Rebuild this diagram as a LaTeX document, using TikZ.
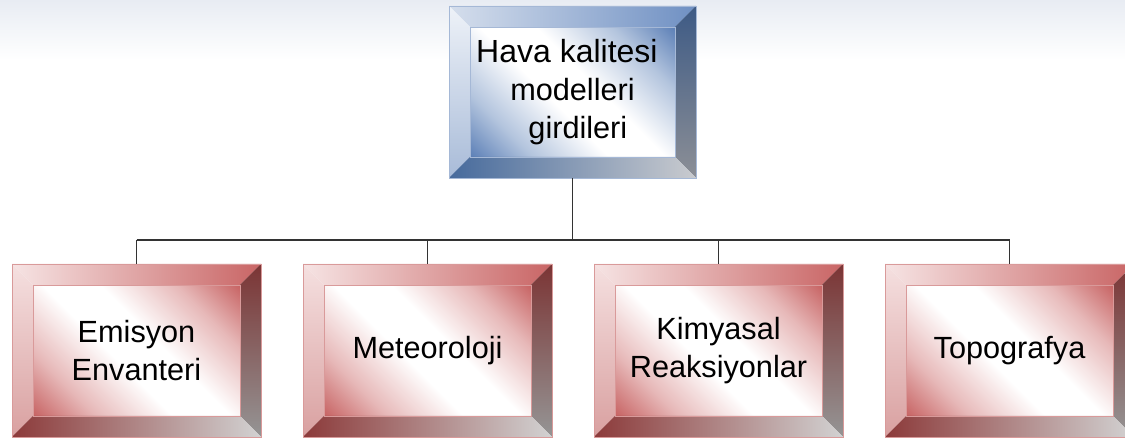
\documentclass[tikz,border=0pt]{standalone}
\usepackage{fontspec}
\setmainfont{Liberation Sans}
\usetikzlibrary{calc}
\definecolor{rA}{HTML}{C86666}
\definecolor{rM}{HTML}{E7B9B9}
\definecolor{bA}{HTML}{5F82B8}
\definecolor{bM}{HTML}{B4C5DE}
\definecolor{rtL}{HTML}{F6E4E4}\definecolor{rtR}{HTML}{C96565}
\definecolor{rlT}{HTML}{F5E0E0}\definecolor{rlB}{HTML}{D9A0A0}
\definecolor{rrT}{HTML}{7B3434}\definecolor{rrB}{HTML}{959595}
\definecolor{rbL}{HTML}{8C3A3A}\definecolor{rbR}{HTML}{D2D2D2}
\definecolor{rE}{HTML}{D99A9A}
\definecolor{btL}{HTML}{D5DEEC}\definecolor{btR}{HTML}{6F90C3}
\definecolor{blT}{HTML}{EEF2F8}\definecolor{blB}{HTML}{A8BBD8}
\definecolor{brT}{HTML}{3D5A85}\definecolor{brB}{HTML}{8C8F96}
\definecolor{bbL}{HTML}{466A9C}\definecolor{bbR}{HTML}{C9CBCF}
\definecolor{bE}{HTML}{A5B8D6}
\definecolor{bgT}{HTML}{E8ECF3}
\definecolor{connC}{HTML}{333333}
\pgfdeclarehorizontalshading{redfaceshade}{100bp}{color(0bp)=(rA); color(15bp)=(rA); color(28bp)=(rM); color(44bp)=(white); color(56bp)=(white); color(72bp)=(rM); color(85bp)=(rA); color(100bp)=(rA)}
\pgfdeclarehorizontalshading{bluefaceshade}{100bp}{color(0bp)=(bA); color(15bp)=(bA); color(28bp)=(bM); color(44bp)=(white); color(56bp)=(white); color(72bp)=(bM); color(85bp)=(bA); color(100bp)=(bA)}
\tikzset{
  redface/.style={shading=redfaceshade, shading angle=45},
  redtop/.style={left color=rtL, right color=rtR},
  redleft/.style={top color=rlT, bottom color=rlB},
  redright/.style={top color=rrT, bottom color=rrB},
  redbottom/.style={left color=rbL, right color=rbR},
  rededge/.style={draw=rE, line width=0.5pt},
  blueface/.style={shading=bluefaceshade, shading angle=45},
  bluetop/.style={left color=btL, right color=btR},
  blueleft/.style={top color=blT, bottom color=blB},
  blueright/.style={top color=brT, bottom color=brB},
  bluebottom/.style={left color=bbL, right color=bbR},
  blueedge/.style={draw=bE, line width=0.5pt},
  boxtext/.style={align=center, inner sep=0pt, font=\fontsize{23}{28.5}\selectfont, text=black},
  conn/.style={draw=connC, line width=0.8pt}
}
\newcommand\bevbox[7]{%
  \def\bvw{21}%
  \shade[#6face] ({#2+\bvw},{#3+\bvw}) rectangle ({#4-\bvw},{#5-\bvw});
  \shade[#6top] (#2,#5) -- (#4,#5) -- ({#4-\bvw},{#5-\bvw}) -- ({#2+\bvw},{#5-\bvw}) -- cycle;
  \shade[#6left] (#2,#5) -- ({#2+\bvw},{#5-\bvw}) -- ({#2+\bvw},{#3+\bvw}) -- (#2,#3) -- cycle;
  \shade[#6right] (#4,#5) -- (#4,#3) -- ({#4-\bvw},{#3+\bvw}) -- ({#4-\bvw},{#5-\bvw}) -- cycle;
  \shade[#6bottom] (#2,#3) -- ({#2+\bvw},{#3+\bvw}) -- ({#4-\bvw},{#3+\bvw}) -- (#4,#3) -- cycle;
  \path[#6edge] (#2,#3) rectangle (#4,#5);
  \path[#6edge] ({#2+\bvw},{#3+\bvw}) rectangle ({#4-\bvw},{#5-\bvw});
  \node[boxtext, minimum width={0.75pt*(#4-#2)}, minimum height={0.75pt*(#5-#3)}] (#1) at ({(#2+#4)/2},{(#3+#5)/2}) {#7};
}
\begin{document}
\begin{tikzpicture}[x=0.75pt,y=0.75pt]
\useasboundingbox (0,0) rectangle (1125,441);
\fill[white] (0,0) rectangle (1125,441);
\shade[top color=bgT, bottom color=white] (0,441) rectangle (1125,381);
\begin{scope}
\clip (0,0) rectangle (1125,441);
\bevbox{top}{449}{263}{696}{435}{blue}{\fontsize{24}{28.5}\selectfont\hspace*{-0.35em}Hava kalitesi\\modelleri\\\hspace*{0.35em}girdileri}
\bevbox{b1}{12}{4}{261}{177}{red}{Emisyon\\Envanteri}
\bevbox{b2}{303}{4}{552}{177}{red}{Meteoroloji}
\bevbox{b3}{594}{4}{843}{177}{red}{Kimyasal\\Reaksiyonlar}
\bevbox{b4}{885}{4}{1134}{177}{red}{Topografya}
\end{scope}
\coordinate (bus) at (0,201);
\draw[conn] (top.south) -- (top.south |- bus);
\draw[conn] (b1.north |- bus) -- (b4.north |- bus);
\draw[conn] (b1.north) -- (b1.north |- bus);
\draw[conn] (b2.north) -- (b2.north |- bus);
\draw[conn] (b3.north) -- (b3.north |- bus);
\draw[conn] (b4.north) -- (b4.north |- bus);
\end{tikzpicture}
\end{document}
